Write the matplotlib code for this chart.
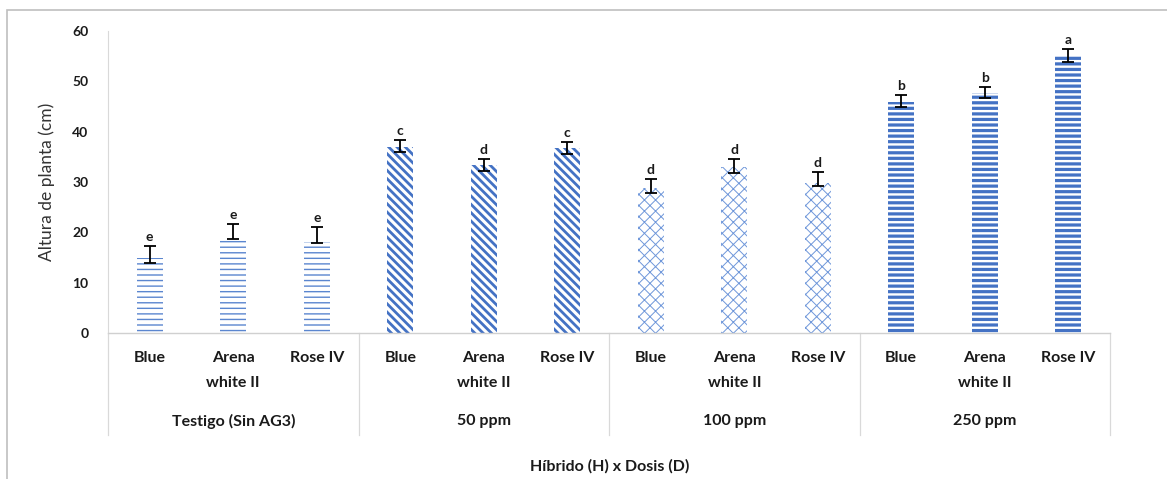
import numpy as np
import matplotlib.pyplot as plt
import matplotlib.transforms as mtransforms
from matplotlib.lines import Line2D
from matplotlib.patches import Rectangle

plt.rcParams['font.family'] = ['Lato', 'DejaVu Sans']

# datos
dosis = ['Testigo (Sin AG3)', '50 ppm', '100 ppm', '250 ppm']
hibridos = ['Blue', 'Arena\nwhite II', 'Rose IV']
altura = [15.0, 19.1, 18.1,
          37.0, 33.4, 36.8,
          28.9, 32.9, 29.9,
          45.9, 47.7, 55.3]
err_abajo = [1.1, 0.4, 0.2,
             1.0, 1.2, 1.2,
             1.1, 1.1, 0.7,
             1.0, 1.0, 1.4]
err_arriba = [2.2, 2.6, 3.0,
              1.4, 1.2, 1.2,
              1.7, 1.7, 2.1,
              1.4, 1.2, 1.2]
letras = ['e', 'e', 'e', 'c', 'd', 'c', 'd', 'd', 'd', 'b', 'b', 'a']

azul = '#4472C4'
# estilo de trama por dosis: (hatch, grosor, color)
tramas = [('---', 1.0, '#5b86cf'), ('\\\\\\\\', 2.0, azul),
          ('xxx', 0.7, '#6f97da'), ('---', 2.3, azul)]

fig = plt.figure(figsize=(11.67, 4.79), dpi=100)
ax = fig.add_axes([108 / 1167, 1 - 333 / 479, 1002 / 1167, 302 / 479])

x = np.arange(len(altura))
for g, (h, lw, col) in enumerate(tramas):
    idx = x[g * 3:(g + 1) * 3]
    with plt.rc_context({'hatch.linewidth': lw}):
        barras = ax.bar(idx, [altura[i] for i in idx], width=0.31,
                        color='white', edgecolor=col, linewidth=0, hatch=h)
    for b in barras:
        if hasattr(b, 'set_hatch_linewidth'):
            b.set_hatch_linewidth(lw)

ax.errorbar(x, altura, yerr=[err_abajo, err_arriba], fmt='none',
            ecolor='black', elinewidth=1.3, capsize=4.5, capthick=1.3)
for i in range(len(altura)):
    ax.text(x[i], altura[i] + err_arriba[i] + 0.6, letras[i], ha='center',
            va='bottom', fontsize=10, fontweight='bold', color='#1a1a1a')

ax.set_xlim(-0.5, len(altura) - 0.5)
ax.set_ylim(0, 60)
ax.set_yticks(range(0, 61, 10))
ax.tick_params(axis='y', length=0, labelsize=10, pad=14)
for t in ax.get_yticklabels():
    t.set_fontweight('bold')
    t.set_color('#1a1a1a')
ax.set_xticks([])
for s in ['top', 'right']:
    ax.spines[s].set_visible(False)
ax.spines['left'].set_color('#d9d9d9')
ax.spines['bottom'].set_color('#d0d0d0')
ax.spines['left'].set_linewidth(0.8)
ax.spines['bottom'].set_linewidth(1.0)

fig.text(47 / 1167, 1 - 182 / 479, 'Altura de planta (cm)', rotation=90,
         ha='center', va='center', fontsize=12.5, color='#333333')

# etiquetas del eje x en dos niveles
tf = fig.transFigure
bt = mtransforms.blended_transform_factory(ax.transData, tf)
for i in range(len(altura)):
    nombre = hibridos[i % 3].split('\n')
    ax.text(x[i], 1 - 358 / 479, nombre[0], transform=bt, ha='center',
            va='center', fontsize=11.5, fontweight='bold', color='#1a1a1a')
    if len(nombre) > 1:
        ax.text(x[i], 1 - 383 / 479, nombre[1], transform=bt, ha='center',
                va='center', fontsize=11.5, fontweight='bold', color='#1a1a1a')

for g, d in enumerate(dosis):
    ax.text(g * 3 + 1, 1 - 421 / 479, d, transform=bt, ha='center', va='center',
            fontsize=11.5, fontweight='bold', color='#1a1a1a')
for g in range(len(dosis) + 1):
    ax.add_line(Line2D([g * 3 - 0.5, g * 3 - 0.5], [1 - 333 / 479, 1 - 435 / 479],
                       transform=bt, color='#d9d9d9', lw=0.9, clip_on=False))

fig.text(610 / 1167, 1 - 466 / 479, 'Híbrido (H) x Dosis (D)', ha='center',
         va='center', fontsize=11.5, fontweight='bold', color='#1a1a1a')

# marco exterior
fig.add_artist(Rectangle((7 / 1167, -0.1), 1.2, 1 - 10 / 479 + 0.1,
                         transform=tf, fill=False, edgecolor='#bfbfbf', lw=1.2))

fig.savefig('out.png', dpi=100)
